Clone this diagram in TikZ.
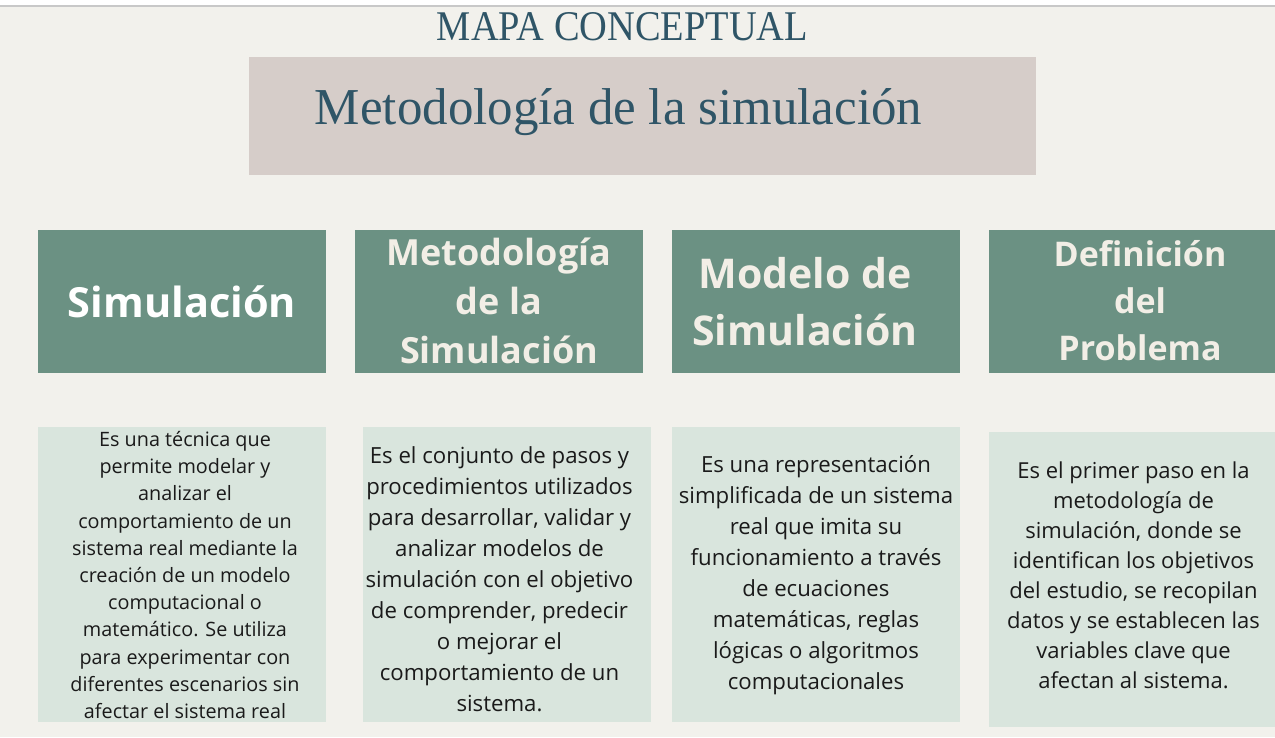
\documentclass[tikz,border=0pt]{standalone}
\usepackage{fontspec}
\setmainfont{Open Sans}
\newfontfamily\serifT{Liberation Serif}
\definecolor{bgc}{HTML}{F2F1EC}
\definecolor{linec}{HTML}{C8C8C8}
\definecolor{titlebox}{HTML}{D6CDC9}
\definecolor{titletext}{HTML}{2F5567}
\definecolor{greenc}{HTML}{6B9183}
\definecolor{creamc}{HTML}{F2EEE6}
\definecolor{lightc}{HTML}{D9E5DD}
\definecolor{bodytext}{HTML}{1A1A1A}
\tikzset{
  hdrbox/.style={fill=greenc, draw=none, minimum width=288pt, minimum height=143pt, inner sep=0pt},
  bodybox/.style={fill=lightc, draw=none, minimum width=288pt, minimum height=295pt, inner sep=0pt},
  hdrtext/.style={align=center, inner sep=0pt},
  bodytxt/.style={align=center, inner sep=0pt, text=bodytext}
}
\begin{document}
\begin{tikzpicture}[x=1pt,y=-1pt]
\useasboundingbox (0,0) rectangle (1275,737);
\fill[bgc] (0,0) rectangle (1275,737);
\fill[white] (0,0) rectangle (1275,5);
\fill[linec] (0,5) rectangle (1275,6.5);
% titles
\node[anchor=base, text=titletext, inner sep=0pt] (mapa) at (622.5,40) {\resizebox{371pt}{28pt}{\serifT MAPA CONCEPTUAL}};
\node[fill=titlebox, minimum width=787pt, minimum height=118pt, inner sep=0pt] (tbox) at (642.5,116) {};
\node[anchor=base, text=titletext, inner sep=0pt] (ttext) at (618.5,124) {\resizebox{607pt}{36pt}{\serifT Metodología de la simulación}};
% header boxes
\node[hdrbox] (h1) at (182,301.5) {};
\node[hdrbox] (h2) at (499,301.5) {};
\node[hdrbox] (h3) at (816,301.5) {};
\node[hdrbox, minimum width=290pt] (h4) at (1134,301.5) {};
\node[hdrtext, text=white, font=\bfseries\fontsize{41.5}{50}\selectfont] (h1t) at (182,302) {Simulación};
\node[hdrtext, text=creamc, font=\bfseries\fontsize{36}{49}\selectfont] (h2t) at (499,301) {Metodología\\de la\\Simulación};
\node[hdrtext, text=creamc, font=\bfseries\fontsize{41}{57}\selectfont] (h3t) at (805,301.5) {Modelo de\\Simulación};
\node[hdrtext, text=creamc, font=\bfseries\fontsize{34}{47}\selectfont] (h4t) at (1140,301) {Definición\\del\\Problema};
% body boxes
\node[bodybox] (b1) at (182,574.5) {};
\node[bodybox] (b2) at (506.5,574.5) {};
\node[bodybox] (b3) at (816,574.5) {};
\node[bodybox, minimum width=290pt] (b4) at (1134,579) {};
\node[bodytxt, font=\fontsize{19.8}{27.2}\selectfont] (b1t) at (185,575) {Es una técnica que\\permite modelar y\\analizar el\\comportamiento de un\\sistema real mediante la\\creación de un modelo\\computacional o\\matemático. Se utiliza\\para experimentar con\\diferentes escenarios sin\\afectar el sistema real};
\node[bodytxt, font=\fontsize{22.2}{31}\selectfont] (b2t) at (499.5,579.5) {Es el conjunto de pasos y\\procedimientos utilizados\\para desarrollar, validar y\\analizar modelos de\\simulación con el objetivo\\de comprender, predecir\\o mejorar el\\comportamiento de un\\sistema.};
\node[bodytxt, font=\fontsize{22.2}{31}\selectfont] (b3t) at (816,575) {Es una representación\\simplificada de un sistema\\real que imita su\\funcionamiento a través\\de ecuaciones\\matemáticas, reglas\\lógicas o algoritmos\\computacionales};
\node[bodytxt, font=\fontsize{22}{30}\selectfont] (b4t) at (1133.5,575) {Es el primer paso en la\\metodología de\\simulación, donde se\\identifican los objetivos\\del estudio, se recopilan\\datos y se establecen las\\variables clave que\\afectan al sistema.};
\end{tikzpicture}
\end{document}
